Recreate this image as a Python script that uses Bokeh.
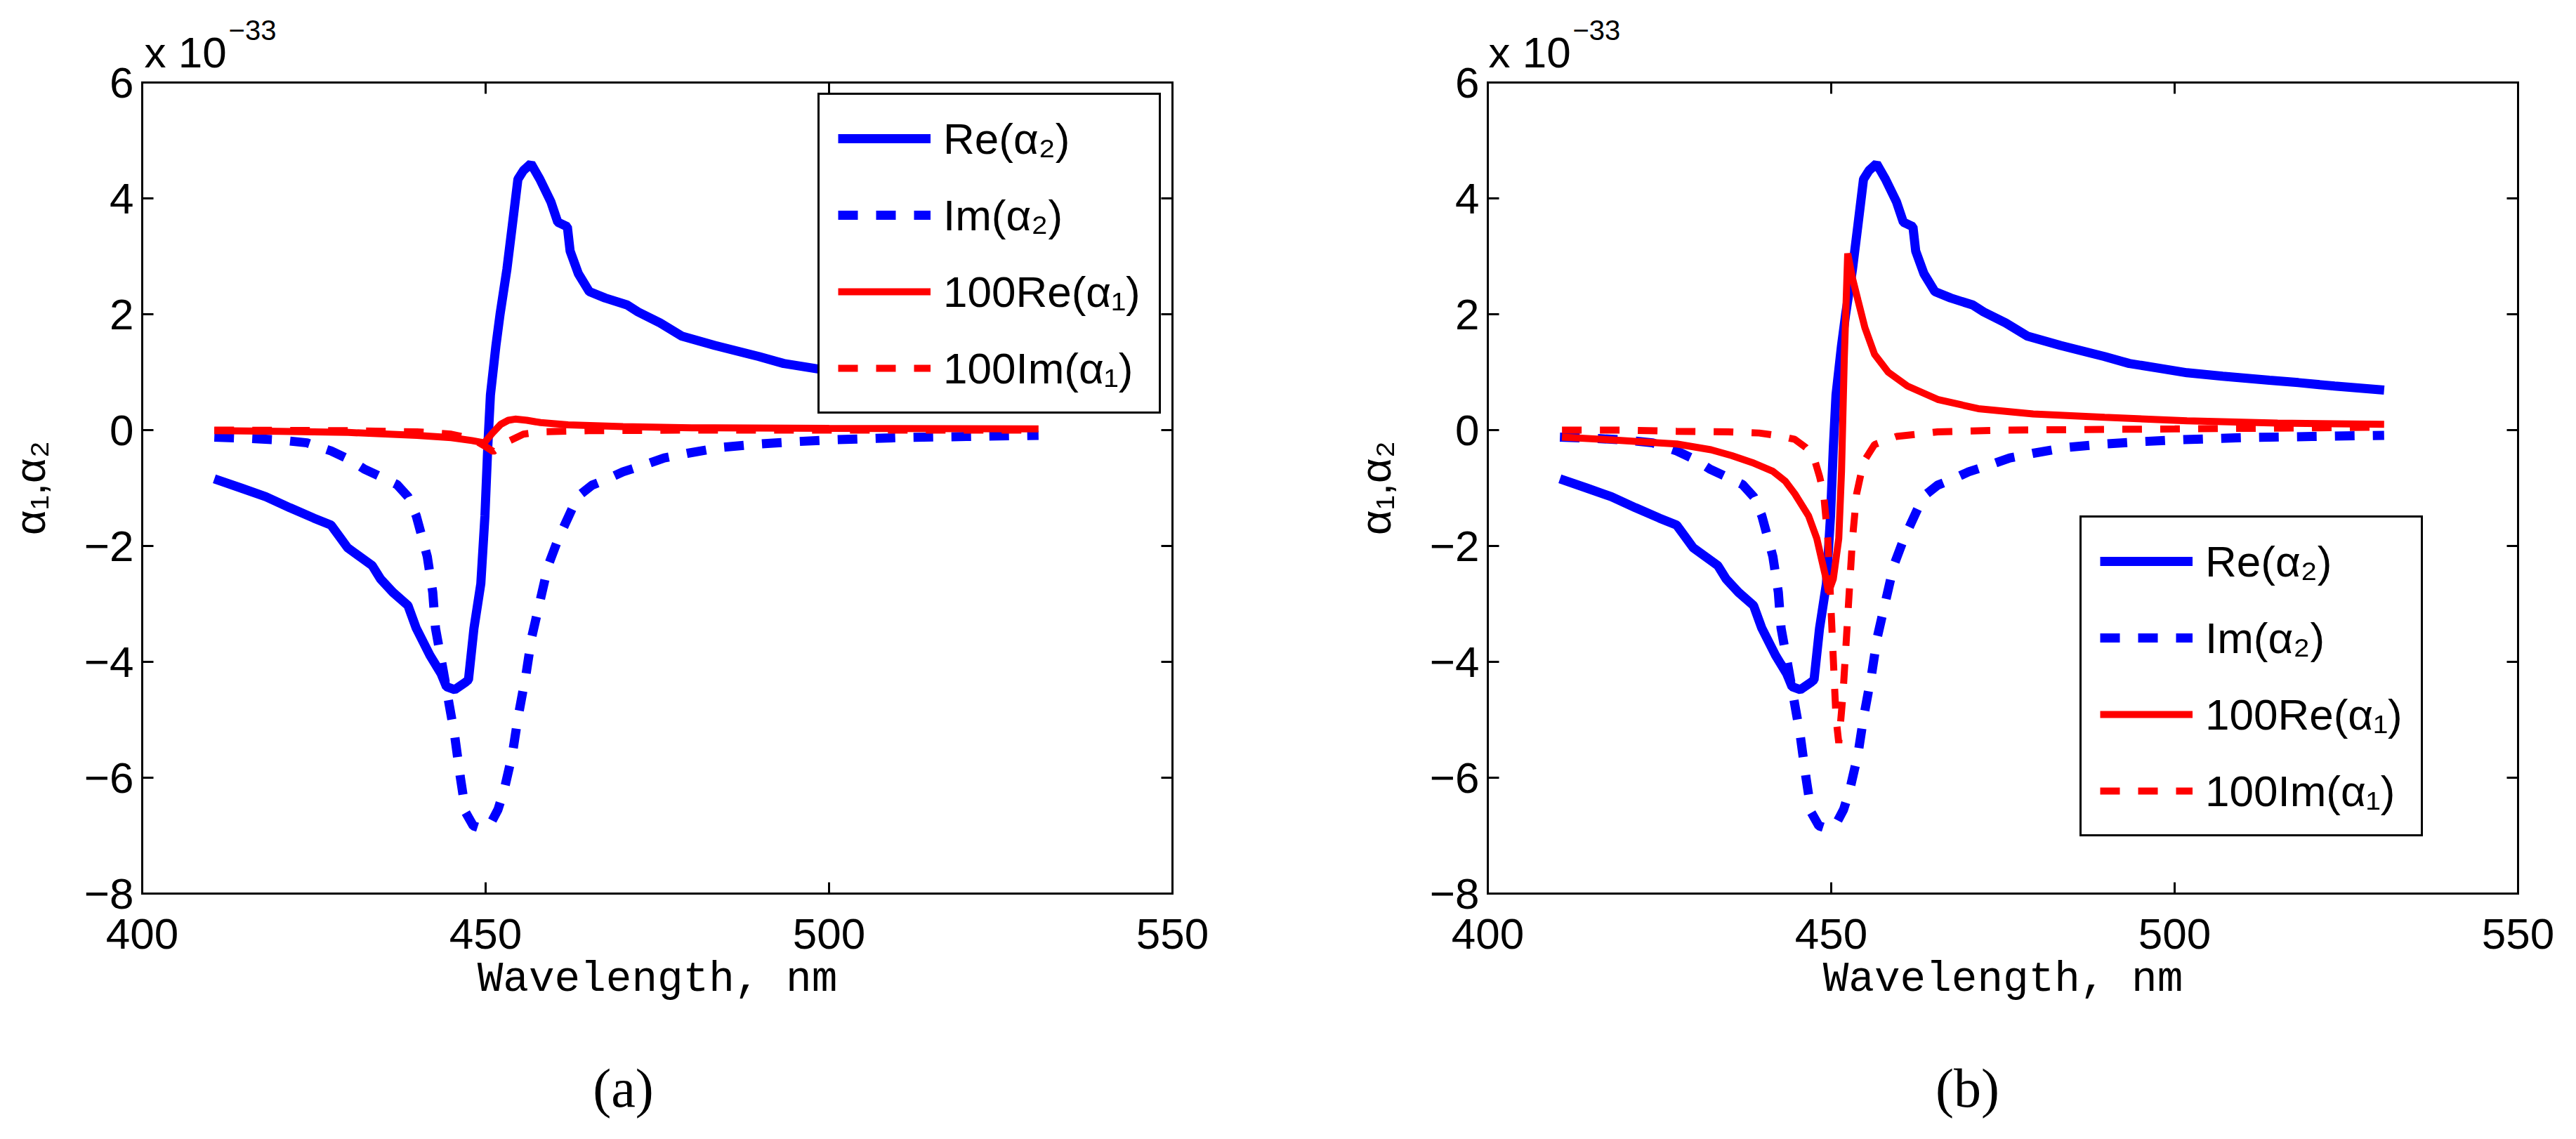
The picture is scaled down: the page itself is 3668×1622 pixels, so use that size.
from bokeh.plotting import figure
from bokeh.models import Range1d, FixedTicker, LinearAxis, Legend, LegendItem, Label
from bokeh.layouts import row
from bokeh.embed import file_html
from bokeh.resources import INLINE

# ---------------- data (units of 1e-33) ----------------
wl_re2 = [410.5, 414.4, 418.0, 421.5, 425.0, 427.5, 429.9, 433.5, 434.7, 436.5, 438.7, 439.9,
          441.9, 443.5, 444.3, 445.5, 447.1, 447.5, 448.3, 449.3, 449.9, 450.3, 450.7, 451.5,
          452.1, 453.1, 453.9, 454.7, 455.5, 456.6, 457.9, 459.5, 460.5, 461.9, 462.3, 463.5,
          465.1, 467.4, 470.6, 472.2, 475.4, 478.6, 483.4, 489.8, 493.4, 498.2, 501.8, 507.0,
          513.8, 518.0, 523.3, 530.5]
re2 = [-0.84, -1.00, -1.15, -1.34, -1.52, -1.64, -2.03, -2.34, -2.57, -2.80, -3.03, -3.42,
       -3.89, -4.20, -4.43, -4.48, -4.35, -4.31, -3.42, -2.65, -1.48, -0.32, 0.61, 1.46,
       2.00, 2.78, 3.55, 4.33, 4.48, 4.60, 4.33, 3.94, 3.59, 3.51, 3.09, 2.70,
       2.39, 2.28, 2.16, 2.04, 1.85, 1.62, 1.46, 1.27, 1.15, 1.06, 0.99, 0.93,
       0.86, 0.82, 0.76, 0.69]

wl_im2 = [410.5, 415.0, 420.0, 424.0, 427.5, 430.0, 432.3, 435.0, 437.1, 438.7, 439.9, 441.5,
          442.3, 442.7, 443.9, 444.7, 445.5, 446.3, 447.1, 448.2, 449.5, 450.7, 451.8, 452.7,
          453.9, 454.7, 455.9, 456.7, 457.9, 459.1, 460.5, 461.5, 462.7, 463.9, 465.5, 467.4,
          470.0, 473.4, 476.0, 479.4, 484.2, 489.8, 495.0, 500.0, 510.0, 520.0, 530.5]
im2 = [-0.12, -0.14, -0.17, -0.22, -0.36, -0.50, -0.67, -0.82, -0.94, -1.15, -1.48, -2.18,
       -2.80, -3.42, -4.20, -4.74, -5.28, -5.98, -6.60, -6.83, -6.88, -6.80, -6.55, -6.21,
       -5.59, -4.97, -4.20, -3.58, -2.96, -2.34, -1.90, -1.64, -1.33, -1.10, -0.95, -0.86,
       -0.72, -0.59, -0.48, -0.40, -0.30, -0.24, -0.20, -0.17, -0.13, -0.11, -0.09]

# panel (a): 100*alpha_1
wl_re1_a = [410.5, 420.0, 430.0, 440.0, 445.0, 448.0, 449.8, 451.0, 452.2, 453.3, 454.3, 456.0,
            458.0, 462.0, 470.0, 480.0, 500.0, 530.5]
re1_a = [-0.01, -0.02, -0.04, -0.09, -0.13, -0.18, -0.22, -0.05, 0.10, 0.17, 0.19, 0.17,
         0.13, 0.09, 0.06, 0.04, 0.03, 0.02]
wl_im1_a = [410.5, 430.0, 440.0, 445.0, 448.0, 449.8, 451.1, 452.2, 453.2, 455.5, 458.0, 465.0,
            480.0, 530.5]
im1_a = [0.0, -0.01, -0.03, -0.07, -0.15, -0.27, -0.37, -0.28, -0.20, -0.07, -0.03, -0.01,
         0.0, 0.0]

# panel (b): 100*alpha_1
wl_re1_b = [410.8, 418.2, 425.0, 427.5, 432.5, 435.5, 438.5, 441.5, 443.3, 444.7, 446.7, 447.9,
            449.1, 449.6, 450.3, 451.1, 451.5, 451.9, 452.4, 453.1, 453.9, 454.9, 456.3, 458.3,
            461.1, 465.5, 471.4, 479.4, 489.8, 501.8, 515.0, 530.5]
re1_b = [-0.12, -0.17, -0.22, -0.24, -0.34, -0.44, -0.56, -0.71, -0.88, -1.10, -1.48, -1.87,
         -2.49, -2.80, -2.57, -1.87, -0.71, 1.23, 3.05, 2.62, 2.24, 1.77, 1.31, 1.00,
         0.76, 0.53, 0.37, 0.28, 0.22, 0.16, 0.12, 0.10]
wl_im1_b = [410.8, 420.0, 427.5, 435.0, 439.5, 442.5, 444.7, 446.3, 447.5, 448.3, 448.9, 449.5,
            450.1, 450.4, 450.7, 451.1, 451.7, 452.1, 452.5, 453.1, 453.7, 454.7, 456.3, 459.5,
            465.5, 475.0, 500.0, 530.5]
im1_b = [0.0, 0.0, -0.02, -0.03, -0.05, -0.10, -0.16, -0.30, -0.48, -0.80, -1.10, -1.87,
         -3.42, -4.20, -4.97, -5.40, -4.58, -3.81, -3.03, -1.87, -1.10, -0.55, -0.25, -0.11,
         -0.03, 0.0, 0.02, 0.05]

x_ticks = [400, 450, 500, 550]
y_ticks = [-8, -6, -4, -2, 0, 2, 4, 6]
y_tick_labels = {-8: "\u22128", -6: "\u22126", -4: "\u22124", -2: "\u22122", 0: "0", 2: "2", 4: "4", 6: "6"}
legend_labels = ["Re(\u03b1\u2082)", "Im(\u03b1\u2082)", "100Re(\u03b1\u2081)", "100Im(\u03b1\u2081)"]
x_label = "Wavelength, nm"
y_label = "\u03b1\u2081,\u03b1\u2082"
exp_base = "x 10"
exp_power = "\u221233"
captions = ["(a)", "(b)"]

X0, X1 = 400, 550
Y0, Y1 = -8, 6

SANS = "Liberation Sans"
FS = "62px"
BLUE = "#0000ff"
RED = "#ff0000"
DASH = "28 26"
PANEL_W, PANEL_H = 1826, 1606
PX_PER_X = 1467 / 150.0     # screen px per nm
PX_PER_Y = 1155 / 14.0      # screen px per unit
AX_LEFT_OFF = [202, 292]    # px from canvas left to x=400
AX_TOP_OFF = 117            # px from canvas top to y=6


def make_panel(idx, wl_r1, r1, wl_i1, i1, leg_loc, exp_x, pow_x, cap_x):
    xs = X0 - AX_LEFT_OFF[idx] / PX_PER_X
    xe = xs + PANEL_W / PX_PER_X
    ye = Y1 + AX_TOP_OFF / PX_PER_Y
    ys = ye - PANEL_H / PX_PER_Y
    p = figure(width=PANEL_W, height=PANEL_H, x_range=Range1d(xs, xe), y_range=Range1d(ys, ye),
               output_backend="svg", toolbar_location=None, min_border=0,
               min_border_left=0, min_border_right=0, min_border_top=0, min_border_bottom=0)
    p.grid.visible = False
    p.outline_line_color = None

    xa = p.xaxis[0]
    ya = p.yaxis[0]
    xa.fixed_location = Y0
    ya.fixed_location = X0
    xa.bounds = (X0, X1)
    ya.bounds = (Y0, Y1)
    xa.ticker = FixedTicker(ticks=x_ticks)
    ya.ticker = FixedTicker(ticks=y_ticks)
    ya.major_label_overrides = y_tick_labels
    for ax in (xa, ya):
        ax.axis_line_width = 3
        ax.axis_line_color = "black"
        ax.axis_line_cap = "square"
        ax.major_tick_in = 16
        ax.major_tick_out = 0
        ax.major_tick_line_width = 3
        ax.minor_tick_line_color = None
        ax.major_label_text_font = SANS
        ax.major_label_text_font_size = FS
        ax.major_label_text_color = "black"
        ax.axis_label_text_font_style = "normal"
        ax.axis_label_text_color = "black"
    xa.major_label_standoff = 36
    ya.major_label_standoff = 12
    xa.axis_label = x_label
    xa.axis_label_text_font = "Liberation Mono"
    xa.axis_label_text_font_size = "61px"
    xa.axis_label_standoff = 6
    ya.axis_label = y_label
    ya.axis_label_text_font = SANS
    ya.axis_label_text_font_size = FS
    ya.axis_label_standoff = 40

    # mirrored box edges with inward ticks on top and right
    for side, tks, loc, bnds in (("above", x_ticks, Y1, (X0, X1)), ("right", y_ticks, X1, (Y0, Y1))):
        ax = LinearAxis(ticker=FixedTicker(ticks=tks), fixed_location=loc, bounds=bnds,
                        major_label_overrides={t: "" for t in tks},
                        major_label_text_font_size="0px",
                        axis_line_color="black", axis_line_width=3, axis_line_cap="square",
                        major_tick_in=16, major_tick_out=0,
                        major_tick_line_width=3, minor_tick_line_color=None,
                        major_label_standoff=0)
        p.add_layout(ax, side)

    l1 = p.line(wl_re2, re2, line_color=BLUE, line_width=13)
    l2 = p.line(wl_im2, im2, line_color=BLUE, line_width=13, line_dash=DASH)
    l3 = p.line(wl_r1, r1, line_color=RED, line_width=10)
    l4 = p.line(wl_i1, i1, line_color=RED, line_width=10, line_dash=DASH)

    legend = Legend(items=[LegendItem(label=lab, renderers=[r])
                           for lab, r in zip(legend_labels, [l1, l2, l3, l4])],
                    location=leg_loc, margin=0, padding=26, spacing=37,
                    label_height=72, glyph_height=72, glyph_width=132, label_standoff=18,
                    label_text_font=SANS, label_text_font_size=FS, label_text_color="black",
                    border_line_color="black", border_line_width=3, border_line_alpha=1.0,
                    background_fill_color="white", background_fill_alpha=1.0)
    p.add_layout(legend)

    p.add_layout(Label(x=exp_x, y=6.521, text=exp_base, text_font=SANS, text_font_size=FS,
                       text_align="left", text_baseline="middle", text_color="black"))
    p.add_layout(Label(x=pow_x, y=6.897, text=exp_power, text_font=SANS, text_font_size="40px",
                       text_align="left", text_baseline="middle", text_color="black"))
    p.add_layout(Label(x=cap_x, y=-11.358, text=captions[idx], text_font="Liberation Serif",
                       text_font_size="78px", text_align="center", text_baseline="middle",
                       text_color="black"))
    return p


panel_a = make_panel(0, wl_re1_a, re1_a, wl_im1_a, im1_a, (1164, 1017), 400.31, 412.58, 470.04)
panel_b = make_panel(1, wl_re1_b, re1_b, wl_im1_b, im1_b, (1135, 415), 400.1, 412.37, 469.84)

page = row(panel_a, panel_b, spacing=0)
open("out.html", "w").write(file_html(page, INLINE))
